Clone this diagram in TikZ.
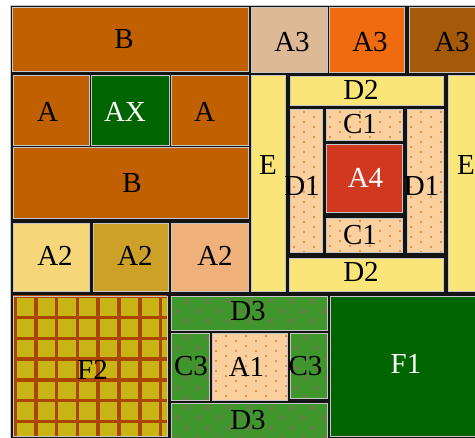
\documentclass[tikz,border=0pt]{standalone}
\usepackage{fontspec}
\setmainfont{Liberation Serif}
\definecolor{cB}{RGB}{193,96,0}
\definecolor{cDG}{RGB}{0,100,0}
\definecolor{cA2a}{RGB}{245,215,122}
\definecolor{cA2b}{RGB}{205,160,40}
\definecolor{cA2c}{RGB}{240,176,122}
\definecolor{cA3a}{RGB}{222,185,150}
\definecolor{cA3b}{RGB}{240,106,16}
\definecolor{cA3c}{RGB}{165,90,10}
\definecolor{cY}{RGB}{250,230,120}
\definecolor{cP}{RGB}{250,208,158}
\definecolor{cDot}{RGB}{225,125,45}
\definecolor{cA4}{RGB}{208,56,32}
\definecolor{cF2}{RGB}{200,180,20}
\definecolor{cF2l}{RGB}{170,70,0}
\definecolor{cG}{RGB}{62,150,44}
\definecolor{cChev}{RGB}{128,112,84}
\tikzset{
  cellline/.style={draw=gray!45,line width=0.9pt},
  lbl/.style={font=\fontsize{29}{30}\selectfont,inner sep=0pt,text=black},
  wlbl/.style={lbl,text=white}
}
\newcommand\dotpat[4]{%
  \begin{scope}
    \clip (#1,#2) rectangle (#3,#4);
    \pgfmathsetmacro\xa{#1+4}\pgfmathsetmacro\xb{#1+14}%
    \pgfmathsetmacro\ya{#2+3}\pgfmathsetmacro\yb{#2+13}%
    \foreach \xx [count=\c] in {\xa,\xb,...,#3}{
      \pgfmathsetmacro\off{mod(\c,2)*5}
      \foreach \yy in {\ya,\yb,...,#4}{\fill[cDot] (\xx,\yy+\off) circle (1.2);}
    }
  \end{scope}}
\newcommand\chevpat[4]{%
  \begin{scope}
    \clip (#1,#2) rectangle (#3,#4);
    \pgfmathsetmacro\xa{#1+6}\pgfmathsetmacro\xb{#1+27}%
    \pgfmathsetmacro\ya{#2+5}\pgfmathsetmacro\yb{#2+15}%
    \foreach \yy [count=\r] in {\ya,\yb,...,#4}{
      \pgfmathsetmacro\off{mod(\r,2)*10}
      \pgfmathsetmacro\dir{mod(\r,2)==1 ? -1 : 1}
      \foreach \xx in {\xa,\xb,...,#3}{
        \draw[cChev,line width=1.2pt] (\xx+\off-1.8*\dir,\yy-2.5) -- (\xx+\off+1.8*\dir,\yy) -- (\xx+\off-1.8*\dir,\yy+2.5);}
    }
  \end{scope}}
\begin{document}
\begin{tikzpicture}[x=1pt,y=-1pt]
\useasboundingbox (0,0) rectangle (475,438);
\fill[gray!45] (10,5) rectangle (480,440);
\fill[black!92] (11,6) rectangle (480,440);
% left column
\fill[cB] (12,7) rectangle (248,71);
\fill[cB] (13,75) rectangle (89,145);
\fill[cDG] (91,75) rectangle (169,145);
\fill[cB] (171,75) rectangle (248,145);
\fill[cB] (13,147) rectangle (248,218);
\fill[cA2a] (13,223) rectangle (89,291);
\fill[cA2b] (93,223) rectangle (168,291);
\fill[cA2c] (171,223) rectangle (248,291);
% right top
\fill[cA3a] (251,7) rectangle (327,72);
\fill[cA3b] (329,7) rectangle (404,72);
\fill[cA3c] (409,7) rectangle (480,72);
\fill[cY] (251,75) rectangle (285,291);
\fill[cY] (290,76) rectangle (443,105);
\fill[cP] (290,109) rectangle (322,252);
\fill[cP] (326,109) rectangle (402,140);
\fill[cA4] (326,144) rectangle (402,212);
\fill[cP] (326,218) rectangle (402,252);
\fill[cP] (407,109) rectangle (443,252);
\fill[cY] (289,258) rectangle (443,291);
\fill[cY] (448,75) rectangle (480,291);
\dotpat{290}{109}{322}{252}
\dotpat{326}{109}{402}{140}
\dotpat{326}{218}{402}{252}
\dotpat{407}{109}{443}{252}
% bottom
\fill[cF2] (13,296) rectangle (167,436);
\begin{scope}
  \clip (13,296) rectangle (167,436);
  \foreach \k in {0,...,7}{
    \draw[cF2l,line width=3.5pt] (15+20.8*\k,296) -- (15+20.8*\k,436);
    \draw[cF2l,line width=3.5pt] (13,296.7+20.8*\k) -- (167,296.7+20.8*\k);}
\end{scope}
\fill[cG] (171,296) rectangle (327,330);
\fill[cG] (171,333) rectangle (209,400);
\fill[cP] (212,333) rectangle (287,400);
\fill[cG] (290,333) rectangle (327,398);
\fill[cG] (171,403) rectangle (327,440);
\fill[cDG] (330,296) rectangle (480,436);
\chevpat{171}{296}{327}{330}
\chevpat{171}{333}{209}{400}
\chevpat{290}{333}{327}{398}
\chevpat{171}{403}{327}{440}
\dotpat{212}{333}{287}{400}
% cell outlines
\foreach \a/\b/\c/\d in {12/7/248/71,13/75/89/145,91/75/169/145,171/75/248/145,13/147/248/218,13/223/89/291,93/223/168/291,171/223/248/291,251/7/327/72,329/7/404/72,409/7/480/72,251/75/285/291,290/76/443/105,290/109/322/252,326/109/402/140,326/144/402/212,326/218/402/252,407/109/443/252,289/258/443/291,448/75/480/291,13/296/167/436,171/296/327/330,171/333/209/400,212/333/287/400,290/333/327/398,171/403/327/440,330/296/480/436}
  {\draw[cellline] (\a,\b) rectangle (\c,\d);}
% labels
\node[lbl] (tB1) at (124,39) {B};
\node[lbl] (tAl) at (47.5,112) {A};
\node[wlbl] (tAX) at (125,112) {AX};
\node[lbl] (tAr) at (204.5,112) {A};
\node[lbl] (tB2) at (132,183.5) {B};
\node[lbl] (tA2a) at (55,256) {A2};
\node[lbl] (tA2b) at (135,256) {A2};
\node[lbl] (tA2c) at (215,256) {A2};
\node[lbl] (tA3a) at (292,42.5) {A3};
\node[lbl] (tA3b) at (370,42.5) {A3};
\node[lbl] (tA3c) at (452,42.5) {A3};
\node[lbl] (tEl) at (268,165.5) {E};
\node[lbl] (tEr) at (466,165.5) {E};
\node[lbl] (tD2t) at (361,90) {D2};
\node[lbl] (tC1t) at (360,124) {C1};
\node[lbl] (tD1l) at (302,185.5) {D1};
\node[wlbl] (tA4) at (365.5,177.5) {A4};
\node[lbl] (tD1r) at (421.5,185.5) {D1};
\node[lbl] (tC1b) at (360,235) {C1};
\node[lbl] (tD2b) at (361,272) {D2};
\node[lbl] (tF2) at (92.5,369.5) {F2};
\node[lbl] (tD3t) at (248,311) {D3};
\node[lbl] (tC3l) at (191,366.5) {C3};
\node[lbl] (tA1) at (246.5,366.5) {A1};
\node[lbl] (tC3r) at (305.5,366.5) {C3};
\node[lbl] (tD3b) at (248,420) {D3};
\node[wlbl] (tF1) at (406,364) {F1};
\end{tikzpicture}
\end{document}
